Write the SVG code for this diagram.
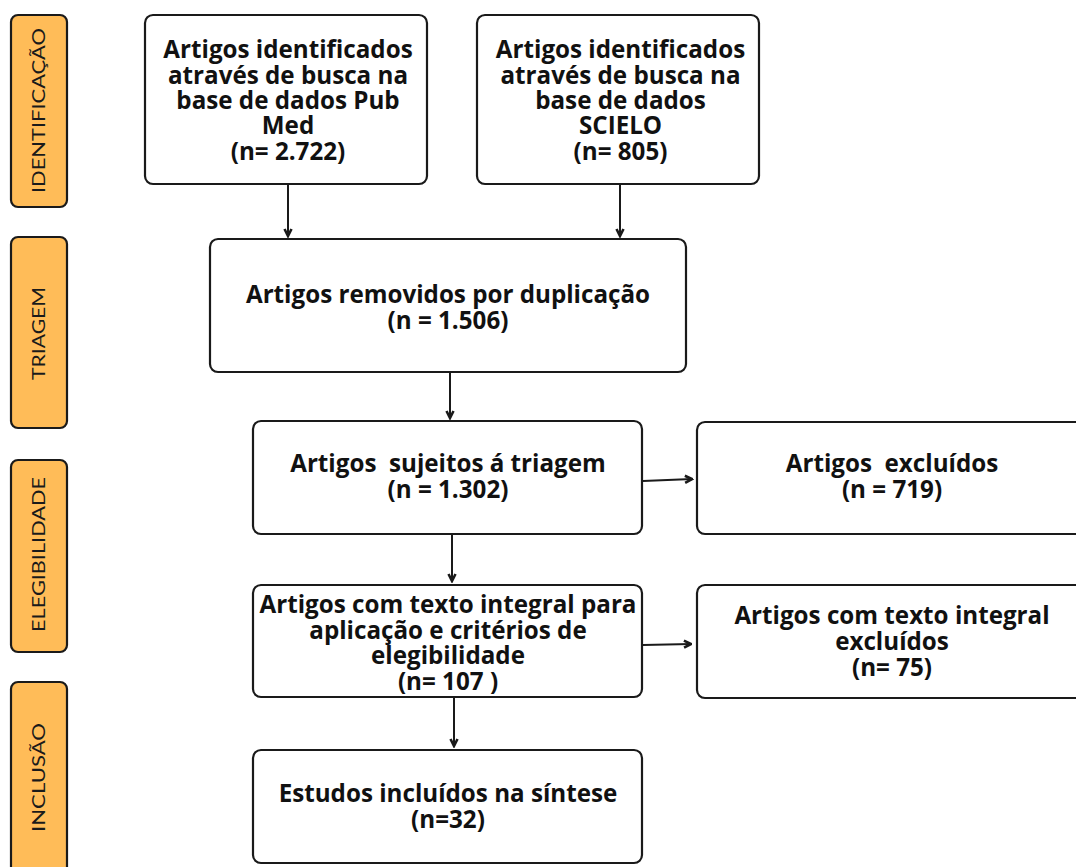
<svg xmlns="http://www.w3.org/2000/svg" width="1076" height="867" viewBox="0 0 1076 867">
<defs>
<style>
.stage{fill:#FFBC58;stroke:#1a1a1a;stroke-width:2.2}
.stxt{font-family:Lato,"Open Sans",sans-serif;font-size:17px;fill:#1a1a1a;text-anchor:middle}
.box{fill:#ffffff;stroke:#1a1a1a;stroke-width:2.2}
.t{font-family:"Open Sans","Liberation Sans",sans-serif;font-weight:bold;font-size:24.2px;fill:#111;text-anchor:middle}
.c{stroke:#1a1a1a;stroke-width:2;fill:none;marker-end:url(#ah)}
</style>
<marker id="ah" viewBox="0 0 10 10" refX="8.5" refY="5" markerWidth="5" markerHeight="5" orient="auto" markerUnits="strokeWidth">
<path d="M1.5,1.5 L8.5,5 L1.5,8.5" fill="none" stroke="#1a1a1a" stroke-width="2.6" stroke-linejoin="miter"/>
</marker>
</defs>
<rect width="1076" height="867" fill="#ffffff"/>

<g id="stage-identificacao">
<rect class="stage" x="11" y="15" width="56" height="192" rx="7"/>
<text class="stxt" transform="translate(45,110.5) rotate(-90)" textLength="165" lengthAdjust="spacingAndGlyphs">IDENTIFICAÇÃO</text>
</g>
<g id="stage-triagem">
<rect class="stage" x="11" y="237" width="56" height="191" rx="7"/>
<text class="stxt" transform="translate(45,333.5) rotate(-90)" textLength="93" lengthAdjust="spacingAndGlyphs">TRIAGEM</text>
</g>
<g id="stage-elegibilidade">
<rect class="stage" x="11" y="460" width="56" height="192" rx="7"/>
<text class="stxt" transform="translate(45,554.5) rotate(-90)" textLength="155" lengthAdjust="spacingAndGlyphs">ELEGIBILIDADE</text>
</g>
<g id="stage-inclusao">
<rect class="stage" x="11" y="682" width="56" height="200" rx="7"/>
<text class="stxt" transform="translate(45,777.5) rotate(-90)" textLength="109" lengthAdjust="spacingAndGlyphs">INCLUSÃO</text>
</g>

<g id="connectors">
<line class="c" x1="288" y1="185" x2="288" y2="236"/>
<line class="c" x1="620" y1="185" x2="620" y2="236"/>
<line class="c" x1="450" y1="373" x2="450" y2="418"/>
<line class="c" x1="643" y1="481" x2="692" y2="479"/>
<line class="c" x1="452" y1="535" x2="452" y2="581"/>
<line class="c" x1="643" y1="645" x2="691" y2="644"/>
<line class="c" x1="454" y1="698" x2="454" y2="746"/>
</g>

<g id="n-pubmed">
<rect class="box" x="145" y="15" width="282" height="169" rx="8"/>
<text class="t" x="288" y="58">Artigos identificados</text>
<text class="t" x="288" y="84">através de busca na</text>
<text class="t" x="288" y="109">base de dados Pub</text>
<text class="t" x="288" y="134">Med</text>
<text class="t" x="288" y="160">(n= 2.722)</text>
</g>
<g id="n-scielo">
<rect class="box" x="477" y="15" width="282" height="169" rx="8"/>
<text class="t" x="620.5" y="58">Artigos identificados</text>
<text class="t" x="620.5" y="84">através de busca na</text>
<text class="t" x="620.5" y="109">base de dados</text>
<text class="t" x="620.5" y="134">SCIELO</text>
<text class="t" x="620.5" y="160">(n= 805)</text>
</g>
<g id="n-duplicados">
<rect class="box" x="210" y="239" width="476" height="133" rx="8"/>
<text class="t" x="448" y="303">Artigos removidos por duplicação</text>
<text class="t" x="448" y="329">(n = 1.506)</text>
</g>
<g id="n-triagem">
<rect class="box" x="253" y="421" width="389" height="113" rx="8"/>
<text class="t" x="448" y="472" xml:space="preserve">Artigos  sujeitos á triagem</text>
<text class="t" x="448" y="498">(n = 1.302)</text>
</g>
<g id="n-excluidos">
<rect class="box" x="697" y="422" width="390" height="112" rx="8"/>
<text class="t" x="892" y="472" xml:space="preserve">Artigos  excluídos</text>
<text class="t" x="892" y="498">(n = 719)</text>
</g>
<g id="n-texto-integral">
<rect class="box" x="253" y="585" width="389" height="112" rx="8"/>
<text class="t" x="448" y="613">Artigos com texto integral para</text>
<text class="t" x="448" y="639">aplicação e critérios de</text>
<text class="t" x="448" y="664">elegibilidade</text>
<text class="t" x="448" y="690">(n= 107 )</text>
</g>
<g id="n-texto-excluidos">
<rect class="box" x="697" y="585" width="390" height="113" rx="8"/>
<text class="t" x="892" y="624">Artigos com texto integral</text>
<text class="t" x="892" y="650">excluídos</text>
<text class="t" x="892" y="676">(n= 75)</text>
</g>
<g id="n-incluidos">
<rect class="box" x="253" y="750" width="389" height="113" rx="8"/>
<text class="t" x="448" y="802">Estudos incluídos na síntese</text>
<text class="t" x="448" y="828">(n=32)</text>
</g>
</svg>
